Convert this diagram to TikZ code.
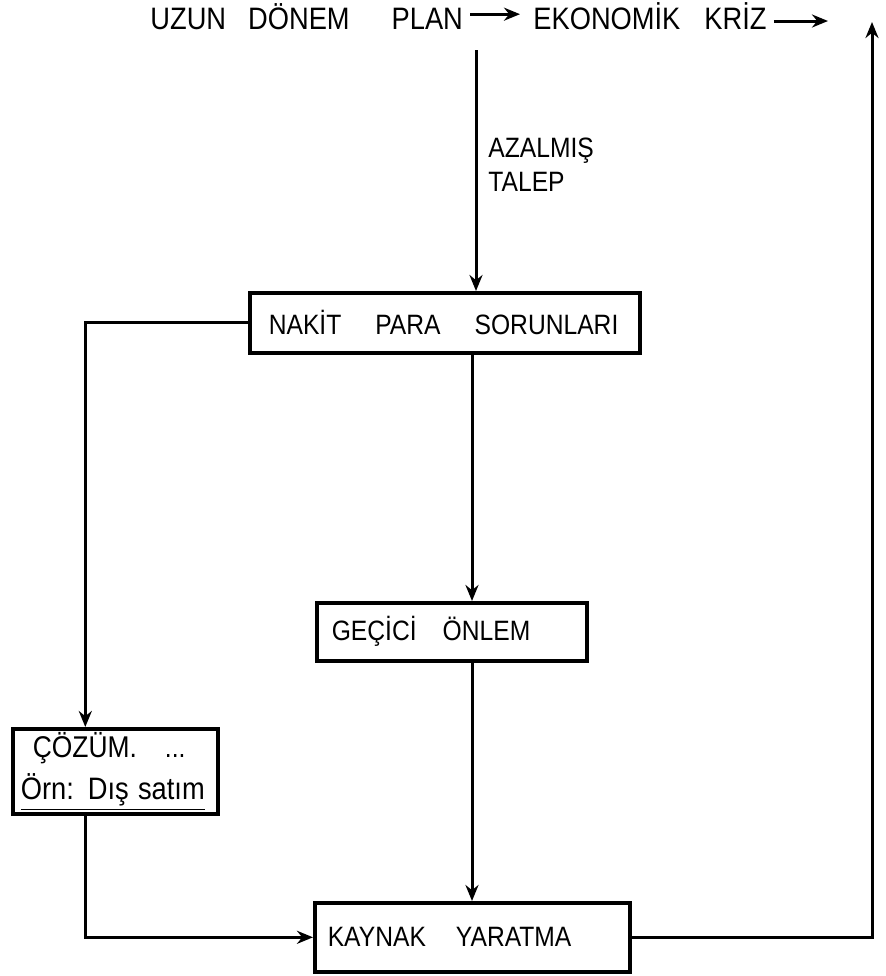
\documentclass[tikz,border=0pt]{standalone}
\usepackage{fontspec}
\setmainfont{Liberation Sans}[FakeStretch = 0.88]
\usetikzlibrary{arrows.meta, positioning}

\begin{document}
\begin{tikzpicture}[x = 0.5pt, y = -0.5pt,
	kutu/.style = {draw, line width = 1.8pt, anchor = north west, inner ysep = 0pt, align = left, font = \fontsize{14}{17}\selectfont},
	yazi/.style = {inner sep = 0pt, font = \fontsize{15.5}{18}\selectfont},
	ok/.style = {line width = 1.5pt, -{Stealth[length = 8pt, width = 6.5pt]}}]
	\useasboundingbox (0, 0) rectangle (885, 976);
	% ust satir
	\node[yazi, anchor = base west] (plan) at (150, 29) {UZUN\hspace{11pt}DÖNEM\hspace{21pt}PLAN};
	\node[yazi, anchor = base west] (kriz) at (533, 29) {EKONOMİK\hspace{12pt}KRİZ};
	\coordinate (planok) at ([yshift = 1pt]plan.east);
	\coordinate (krizok) at (828, 21);
	\coordinate (talep) at (476, 50);
	\coordinate (orta) at (472, 0);
	\coordinate (sag) at (872, 22);
	% kutular
	\node[kutu, minimum width = 195pt, minimum height = 30pt, inner xsep = 9.5pt, text width = 176pt] (nakit) at (248, 291) {\mbox{NAKİT\hspace{17pt}PARA\hspace{17pt}SORUNLARI}};
	\node[kutu, minimum width = 135pt, minimum height = 29pt, inner xsep = 7.5pt, text width = 120pt] (gecici) at (315, 601) {GEÇİCİ\hspace{13pt}ÖNLEM};
	\node[kutu, minimum width = 102.5pt, minimum height = 42.5pt, inner xsep = 4pt, text width = 94.5pt] (cozum) at (11, 727) {\hspace{6pt}{\fontsize{15}{17}\selectfont ÇÖZÜM.}\hspace{14pt}...\\[4pt]{\fontsize{15.5}{17}\selectfont\underline{Örn: Dış satım}}};
	\node[kutu, minimum width = 157.5pt, minimum height = 34.5pt, inner xsep = 6.5pt, text width = 144.5pt] (kaynak) at (313, 901) {KAYNAK\hspace{15pt}YARATMA};
	\node[inner sep = 0pt, anchor = north west, align = left, font = \fontsize{14}{17}\selectfont] (azalmis) at (488, 138) {AZALMIŞ\\TALEP};
	% oklar
	\draw[ok, shorten <= 3.5pt, shorten >= 6.5pt] (planok) -- (planok -| kriz.west);
	\draw[ok, shorten <= 3.5pt] (kriz.east |- krizok) -- (krizok);
	\draw[ok] (talep) -- (talep |- nakit.north);
	\draw[ok] (orta |- nakit.south) -- (orta |- gecici.north);
	\draw[ok] (orta |- gecici.south) -- (orta |- kaynak.north);
	\draw[ok] (nakit.west) -| ([xshift = -15pt]cozum.north);
	\draw[ok] ([xshift = -15pt]cozum.south) |- (kaynak.west);
	\draw[ok] (kaynak.east) -| (sag);
\end{tikzpicture}
\end{document}
